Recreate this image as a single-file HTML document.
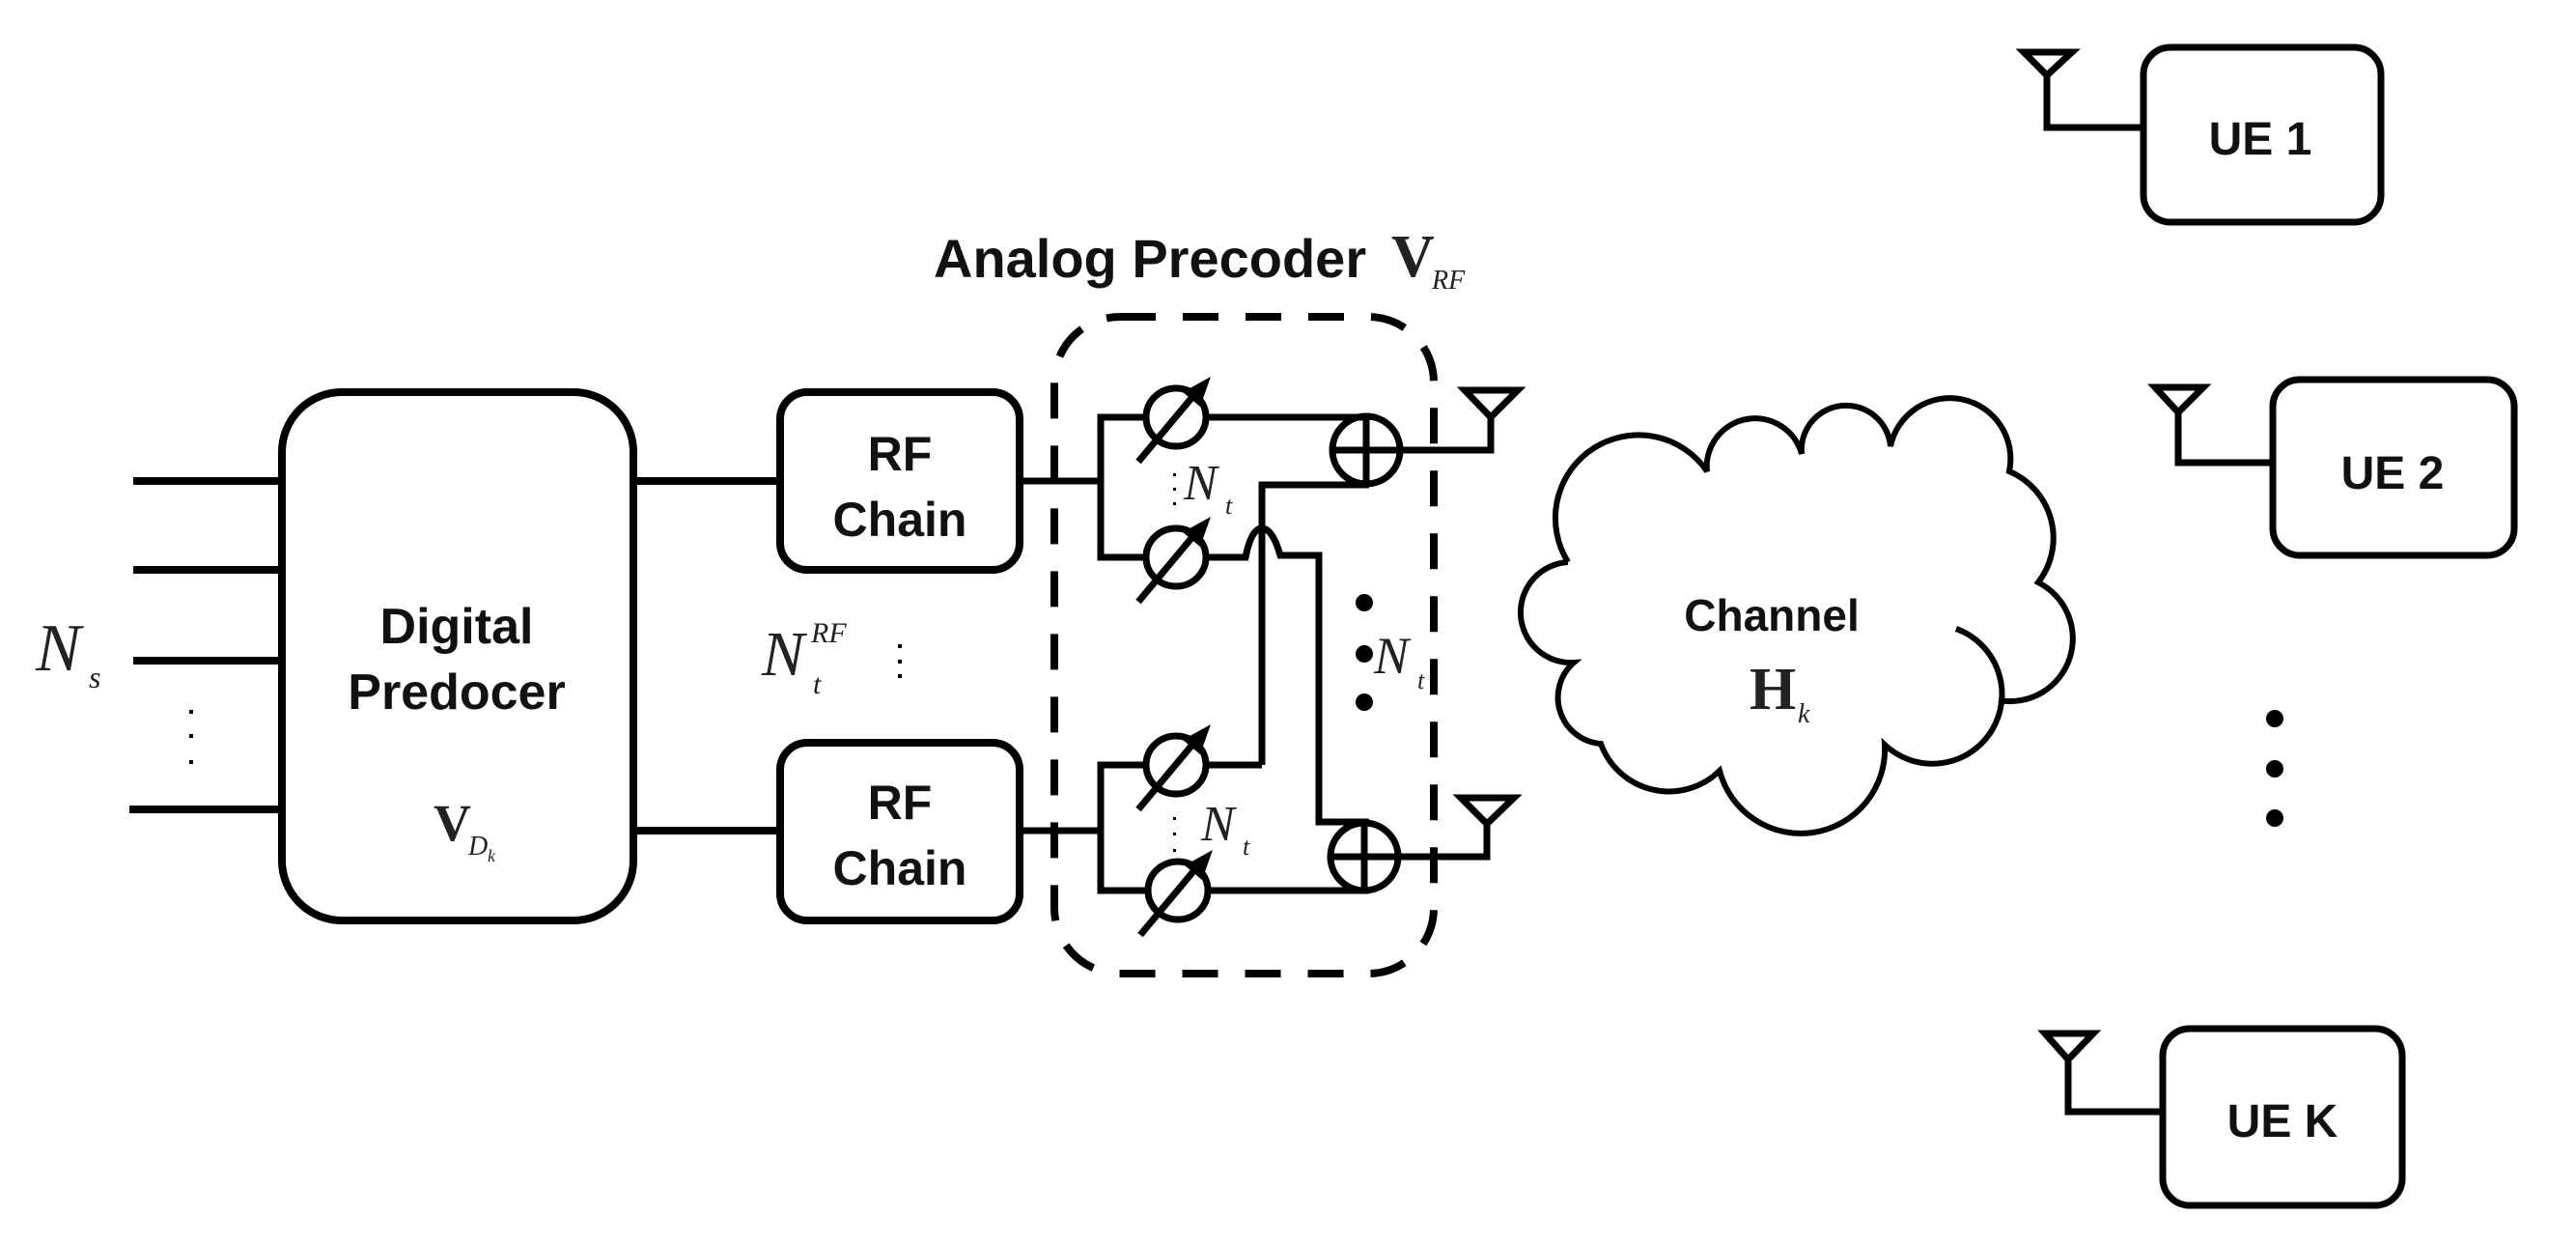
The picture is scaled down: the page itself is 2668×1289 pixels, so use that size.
<!DOCTYPE html>
<html><head><meta charset="utf-8"><style>
html,body{margin:0;padding:0;background:#fff;}
svg{display:block;}
.s{font-family:"Liberation Sans",sans-serif;font-weight:bold;fill:#111;}
.m{font-family:"Liberation Serif",serif;fill:#222;}
</style></head><body>
<svg width="2668" height="1289" viewBox="0 0 2668 1289" xmlns="http://www.w3.org/2000/svg">
<rect width="2668" height="1289" fill="#fff"/>
<g fill="none" stroke="#000" stroke-width="8" stroke-linejoin="miter">
<line x1="138" y1="498" x2="292" y2="498"/>
<line x1="138" y1="590" x2="292" y2="590"/>
<line x1="138" y1="684" x2="292" y2="684"/>
<line x1="134" y1="838" x2="292" y2="838"/>
<rect x="292" y="406" width="364" height="547" rx="62" ry="62"/>
<line x1="656" y1="498" x2="808" y2="498"/>
<line x1="656" y1="860" x2="808" y2="860"/>
<rect x="808" y="406" width="248" height="184" rx="28" ry="28"/>
<rect x="808" y="769" width="248" height="184" rx="28" ry="28"/>
<rect x="1092" y="328" width="393" height="680" rx="68" ry="68" stroke-dasharray="37 28"/>
</g>
<g fill="none" stroke="#000" stroke-width="7">
<polyline points="1056,498 1140,498 1140,432 1188,432"/>
<polyline points="1140,498 1140,577 1188,577"/>
<line x1="1249" y1="432" x2="1418" y2="432"/>
<polyline points="1307,792 1307,502 1418,502"/>
<path d="M1249,577 H1290 Q1296,547 1307,547 Q1318,547 1326,575 H1366 V851 H1418"/>
<line x1="1249" y1="792" x2="1307" y2="792"/>
<polyline points="1056,860 1140,860 1140,792 1188,792"/>
<polyline points="1140,860 1140,922 1188,922"/>
<line x1="1249" y1="922" x2="1418" y2="922"/>
<circle cx="1415" cy="466" r="35"/>
<line x1="1380" y1="466" x2="1450" y2="466"/><line x1="1415" y1="431" x2="1415" y2="501"/>
<circle cx="1413" cy="887" r="35"/>
<line x1="1378" y1="887" x2="1448" y2="887"/><line x1="1413" y1="852" x2="1413" y2="922"/>
<polyline points="1450,466 1544,466 1544,430"/>
<path d="M1517,404 H1572 L1544,432 Z"/>
<polyline points="1448,887 1540,887 1540,853"/>
<path d="M1513,826 H1568 L1540,853 Z"/>
<ellipse cx="1218" cy="432" rx="31" ry="30"/>
<ellipse cx="1218" cy="577" rx="31" ry="30"/>
<ellipse cx="1218" cy="792" rx="31" ry="30"/>
<ellipse cx="1220" cy="922" rx="31" ry="30"/>
<line x1="1179" y1="478" x2="1240" y2="405"/>
<line x1="1179" y1="623" x2="1240" y2="550"/>
<line x1="1179" y1="838" x2="1240" y2="765"/>
<line x1="1181" y1="968" x2="1242" y2="895"/>
<rect x="2220" y="49" width="246" height="181" rx="28" ry="28"/>
<rect x="2354" y="393" width="250" height="182" rx="28" ry="28"/>
<rect x="2240" y="1065" width="248" height="183" rx="28" ry="28"/>
<polyline points="2120,78 2120,132 2220,132"/><path d="M2096,54 H2146 L2120,78 Z"/>
<polyline points="2256,427 2256,479 2354,479"/><path d="M2232,401 H2282 L2256,427 Z"/>
<polyline points="2142,1097 2142,1151 2240,1151"/><path d="M2118,1070 H2168 L2142,1097 Z"/>
</g>
<g fill="#000">
<polygon points="1254,390 1225,406 1243,421"/>
<polygon points="1254,535 1225,551 1243,566"/>
<polygon points="1254,750 1225,766 1243,781"/>
<polygon points="1256,880 1227,896 1245,911"/>
<circle cx="1413" cy="624" r="9"/><circle cx="1413" cy="677" r="9"/><circle cx="1413" cy="727" r="9"/>
<circle cx="2356" cy="744" r="9"/><circle cx="2356" cy="796" r="9"/><circle cx="2356" cy="847" r="9"/>
<rect x="196" y="735" width="4" height="4"/><rect x="196" y="760" width="4" height="4"/><rect x="196" y="787" width="4" height="4"/>
<rect x="930" y="667" width="4" height="4"/><rect x="930" y="683" width="4" height="4"/><rect x="930" y="698" width="4" height="4"/>
<rect x="1215" y="490" width="3" height="3"/><rect x="1215" y="505" width="3" height="3"/><rect x="1215" y="520" width="3" height="3"/>
<rect x="1215" y="846" width="3" height="3"/><rect x="1215" y="862" width="3" height="3"/><rect x="1215" y="879" width="3" height="3"/>
</g>
<g fill="none" stroke="#000" stroke-width="6">
<path d="M1624,582 A86,86 0 0 1 1768,488 A50,50 0 0 1 1866,470 A46,46 0 0 1 1958,462 A62,62 0 0 1 2081,488 A75,75 0 0 1 2111,603 A65,65 0 0 1 2070,725"/>
<path d="M2026,651 A72,72 0 1 1 1952,771 A87,87 0 0 1 1781,798 A75,75 0 0 1 1658,770 A48,48 0 0 1 1630,686 A52,52 0 0 1 1624,582"/>
</g>
<text class="s" x="473" y="666" font-size="52" text-anchor="middle">Digital</text>
<text class="s" x="473" y="734" font-size="52" text-anchor="middle">Predocer</text>
<text class="m" x="449" y="870" font-size="54" font-weight="bold">V</text>
<text class="m" x="485" y="885" font-size="28" font-style="italic">D</text>
<text class="m" x="505" y="892" font-size="18" font-style="italic">k</text>
<text class="s" x="932" y="487" font-size="50" text-anchor="middle">RF</text>
<text class="s" x="932" y="555" font-size="50" text-anchor="middle">Chain</text>
<text class="s" x="932" y="848" font-size="50" text-anchor="middle">RF</text>
<text class="s" x="932" y="916" font-size="50" text-anchor="middle">Chain</text>
<text class="m" x="37" y="694" font-size="70" font-style="italic">N</text>
<text class="m" x="92" y="712" font-size="32" font-style="italic">s</text>
<text class="m" x="789" y="699" font-size="66" font-style="italic">N</text>
<text class="m" x="842" y="718" font-size="30" font-style="italic">t</text>
<text class="m" x="840" y="665" font-size="30" font-style="italic">RF</text>
<text class="s" x="967" y="287" font-size="56">Analog Precoder</text>
<text class="m" x="1441" y="286" font-size="62" font-weight="bold">V</text>
<text class="m" x="1483" y="299" font-size="28" font-style="italic">RF</text>
<text class="m" x="1226" y="517" font-size="52" font-style="italic">N</text>
<text class="m" x="1269" y="532" font-size="26" font-style="italic">t</text>
<text class="m" x="1244" y="870" font-size="52" font-style="italic">N</text>
<text class="m" x="1287" y="885" font-size="26" font-style="italic">t</text>
<text class="m" x="1423" y="697" font-size="54" font-style="italic">N</text>
<text class="m" x="1468" y="713" font-size="26" font-style="italic">t</text>
<text class="s" x="1835" y="653" font-size="46" text-anchor="middle">Channel</text>
<text class="m" x="1812" y="734" font-size="62" font-weight="bold">H</text>
<text class="m" x="1862" y="748" font-size="28" font-style="italic">k</text>
<text class="s" x="2341" y="160" font-size="48" text-anchor="middle">UE 1</text>
<text class="s" x="2478" y="506" font-size="48" text-anchor="middle">UE 2</text>
<text class="s" x="2364" y="1177" font-size="48" text-anchor="middle">UE K</text>
</svg>
</body></html>
